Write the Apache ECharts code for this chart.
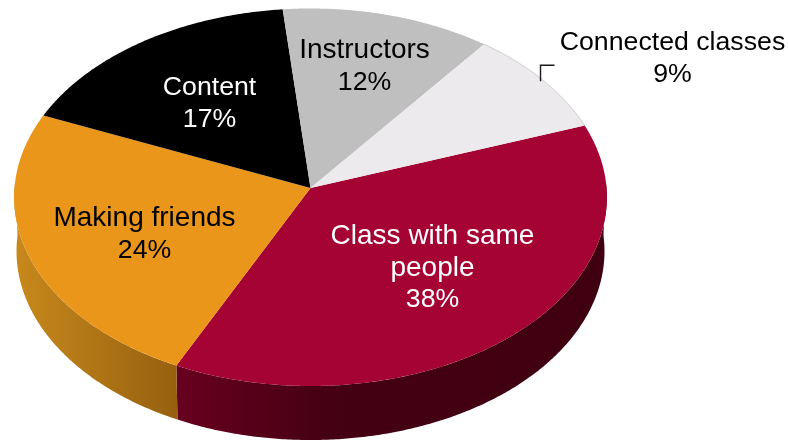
<!DOCTYPE html>
<html><head><meta charset="utf-8">
<style>html,body{margin:0;padding:0;background:#fff}#c{width:788px;height:441px}</style>
<script src="https://cdn.jsdelivr.net/npm/echarts@6/dist/echarts.min.js"></script>
</head><body><div id="c"></div>
<script>
// Data
const categories = ['Class with same\npeople', 'Making friends', 'Content', 'Instructors', 'Connected classes'];
const shares = [37.6, 24.3, 17.0, 12.0, 9.1];

// Styling and layout
const faceColors = ['#A50334', '#EA961A', '#000000', '#BFBFBF', '#ECEAEC'];
const textColors = ['#ffffff', '#000000', '#ffffff', '#000000', '#000000'];
const nameFontSizes = [28, 28, 26.7, 28, 26.7];
const sideColors = [
  [[0, '#680020'], [0.35, '#450013'], [1, '#3F0011']],
  [[0, '#C8891C'], [1, '#96600F']], null, null, null
];
const labelOffsets = [[122, 80], [-166, 46.5], [-101, -84.5], [54, -121.5], [362, -129.5]];
const leaderIndex = 4;
const pie = { x: 310.5, y: 188, a: 296, b: 188.3, k: 0.049, depth: 54, shrink: 0.992, start: 70.3 };

const total = shares.reduce((s, v) => s + v, 0);
const startAngles = [];
shares.reduce((acc, v, i) => { startAngles[i] = acc; return acc + v / total * 360; }, pie.start);

function rim(deg) {
  const t = deg * Math.PI / 180, X = Math.sin(t), Y = -Math.cos(t), w = 1 - pie.k * Y;
  return [pie.x + pie.a * X / w, pie.y + pie.b * Y / w];
}
function lower(deg) {
  const p = rim(deg);
  return [pie.x + (p[0] - pie.x) * pie.shrink, p[1] + pie.depth];
}
function sweep(from, to, fn) {
  const out = [], n = Math.max(2, Math.ceil((to - from) * 2));
  for (let i = 0; i <= n; i++) out.push(fn(from + (to - from) * i / n));
  return out;
}
function sliceRange(i) {
  const from = startAngles[i];
  return [from, from + shares[i] / total * 360];
}

function renderSide(params, api) {
  const i = api.value(0), colors = sideColors[i];
  if (!colors) return { type: 'group', children: [] };
  const r = sliceRange(i), from = Math.max(r[0], 88), to = Math.min(r[1], 272);
  if (to <= from) return { type: 'group', children: [] };
  const pts = sweep(from, to, rim).concat(sweep(from, to, lower).reverse());
  return { type: 'polygon', shape: { points: pts }, style: {
    fill: { type: 'linear', x: 0, y: 0, x2: 1, y2: 0,
      colorStops: colors.map(c => ({ offset: c[0], color: c[1] })) }
  } };
}
function renderFace(params, api) {
  const i = api.value(0), r = sliceRange(i);
  const arc = sweep(r[0], r[1], rim);
  const children = [{ type: 'polygon', shape: { points: [[pie.x, pie.y]].concat(arc) },
    style: { fill: faceColors[i] } }];
  if (i === leaderIndex) {
    children.push({ type: 'polyline', shape: { points: arc },
      style: { stroke: '#C4C4C4', lineWidth: 0.8, fill: null } });
  }
  return { type: 'group', children };
}
function renderLabel(params, api) {
  const i = api.value(0), r = sliceRange(i), off = labelOffsets[i];
  const family = '"Liberation Sans", Arial, sans-serif';
  const text = categories[i].split('\n').map(s => '{n|' + s + '}').join('\n')
    + '\n{p|' + Math.round(shares[i]) + '%}';
  const children = [{ type: 'text', style: {
    x: pie.x + off[0], y: pie.y + off[1], text,
    fill: textColors[i], align: 'center', verticalAlign: 'middle',
    rich: {
      n: { fontSize: nameFontSizes[i], fontFamily: family, lineHeight: 32, fill: textColors[i], align: 'center' },
      p: { fontSize: 26.7, fontFamily: family, lineHeight: 32, fill: textColors[i], align: 'center' }
    }
  } }];
  if (i === leaderIndex) {
    const p = rim((r[0] + r[1]) / 2);
    const x = p[0] - 2.5;
    children.push({ type: 'polyline', shape: { points: [[x, p[1] + 1], [x, p[1] - 15], [x + 14, p[1] - 15]] },
      style: { stroke: '#1a1a1a', lineWidth: 1.4, fill: null } });
  }
  return { type: 'group', children };
}

const rows = categories.map((c, i) => [i, shares[i]]);
const chart = echarts.init(document.getElementById('c'), null, { renderer: 'canvas' });
chart.setOption({
  animation: false,
  backgroundColor: '#fff',
  series: [
    { type: 'custom', coordinateSystem: 'none', silent: true, z: 1, renderItem: renderSide, data: rows },
    { type: 'custom', coordinateSystem: 'none', silent: true, z: 2, renderItem: renderFace, data: rows },
    { type: 'custom', coordinateSystem: 'none', silent: true, z: 3, renderItem: renderLabel, data: rows }
  ]
});
</script></body></html>
